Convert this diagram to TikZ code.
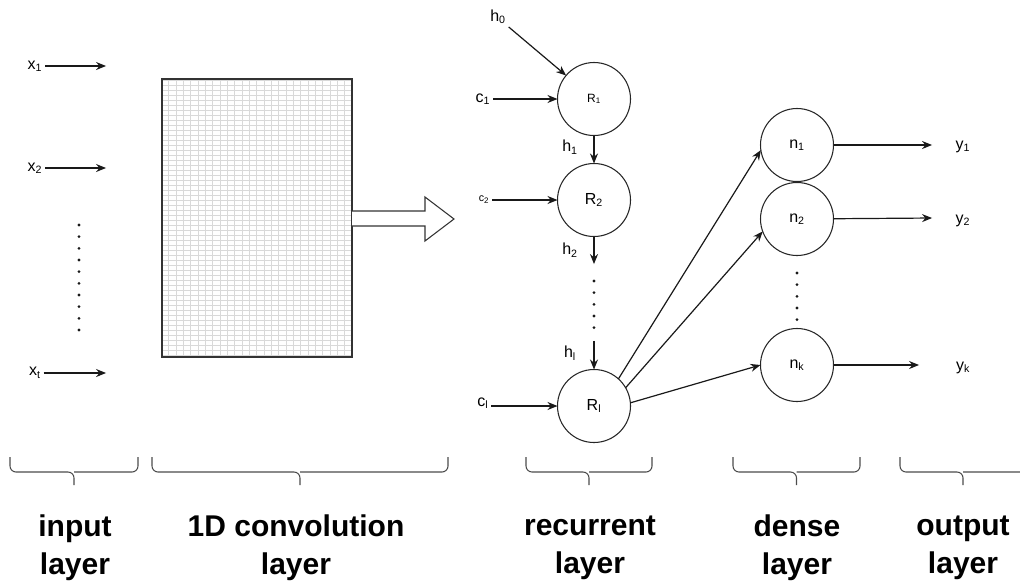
\documentclass[tikz,border=0pt]{standalone}
\usepackage{fontspec}
\setmainfont{Liberation Sans}
\usepackage{tkz-graph}
\usetikzlibrary{arrows.meta}

\tikzset{lab/.style = {font = \fontsize{12}{14}\selectfont, inner sep = 2pt}}
\tikzset{layertext/.style = {font = \bfseries\fontsize{22.5}{28.5}\selectfont, align = center, inner sep = 0pt}}
\tikzset{bracelook/.style = {line width = 0.8pt, black!70, rounded corners = 4.5pt}}
\tikzset{dotline/.style = {line width = 2.3pt, line cap = round, dash pattern = on 0pt off 8.75pt, black!90}}
% flat curly brace under a layer: left end, right end
\newcommand{\LayerBrace}[2]{%
  \draw[bracelook] (#1,457) |- ({(#1+#2)/2},472) -- ({(#1+#2)/2},485);
  \draw[bracelook] (#2,457) |- ({(#1+#2)/2},472);}

\begin{document}
\begin{tikzpicture}[x=0.75pt,y=-0.75pt]
\clip (0,0) rectangle (1020,586);
\GraphInit[vstyle=Normal]
\tikzset{VertexStyle/.style = {shape = circle, minimum size = 54.75pt, inner sep = 0pt, draw = black!85, line width = 0.8pt, font = \fontsize{12}{14}\selectfont}}
\tikzset{EdgeStyle/.style = {-{Stealth[length=7.5pt,width=6pt]}, line width = 0.9pt, black!90}}
\tikzset{LabelStyle/.style = {draw = none, fill = none, inner sep = 0pt}}

% input layer
\node[lab] (x1) at (35,66) {x\textsubscript{1}}; \node[lab] (x2) at (35,168) {x\textsubscript{2}}; \node[lab] (xt) at (35,373) {x\textsubscript{t}};
\Vertex[empty,x=107,y=66]{X1} \Vertex[empty,x=107,y=168]{X2} \Vertex[empty,x=107,y=373]{Xt}
\Edge(x1)(X1) \Edge(x2)(X2) \Edge(xt)(Xt)
\draw[dotline] (79,225) -- (79,332);

% 1D convolution layer
\draw[gray!30, line width = 0.5pt, xstep = 5.5pt, ystep = 3.75pt] (162,79) grid (352,357);
\draw[black!80, line width = 1pt] (162,79) rectangle (352,357);
\draw[black!80, line width = 0.8pt, fill = white] (352,211) -- (425,211) -- (425,197) -- (454,219) -- (425,241) -- (425,226) -- (352,226);

% recurrent layer
\Vertex[x=594,y=99,L={\fontsize{9}{10}\selectfont R\textsubscript{1}}]{R1}
\Vertex[x=594,y=200,L={R\textsubscript{2}}]{R2}
\Vertex[x=594,y=406,L={R\textsubscript{l}}]{Rl}
\node[lab] (h0) at (498,17) {h\textsubscript{0}};
\node[lab] (c1) at (483,99) {c\textsubscript{1}};
\node[lab] (h1) at (570,147) {h\textsubscript{1}};
\node[lab, font = \fontsize{8}{9}\selectfont] (c2) at (484,200) {c\textsubscript{2}};
\node[lab] (h2) at (570,250) {h\textsubscript{2}};
\node[lab] (hl) at (570,353) {h\textsubscript{l}};
\node[lab] (cl) at (483,403) {c\textsubscript{l}};
\Vertex[empty,x=594,y=265]{H2} \Vertex[empty,x=594,y=340]{Hl}
\Edge(h0.south east)(R1) \Edge(c1)(R1) \Edge(R1)(R2) \Edge(c2.east)(R2.west) \Edge(R2)(H2) \Edge(Hl)(Rl) \Edge(cl.east |- Rl.west)(Rl.west)
\draw[dotline] (594,281) -- (594,332);

% dense layer
\Vertex[x=797,y=145,L={n\textsubscript{1}}]{n1}
\Vertex[x=797,y=219,L={n\textsubscript{2}}]{n2}
\Vertex[x=797,y=365,L={n\textsubscript{k}}]{nk}
\Edge(Rl.48)(n1.188) \Edge(Rl.30)(n2.200) \Edge(Rl.5)(nk.180)
\draw[dotline] (797,273) -- (797,324);

% output layer
\Vertex[empty,x=933,y=145]{Y1} \Vertex[empty,x=933,y=218]{Y2} \Vertex[empty,x=920,y=365]{Yk}
\Edges(n1,Y1) \Edges(n2,Y2) \Edges(nk,Yk)
\node[lab] (y1) at (963,147) {y\textsubscript{1}}; \node[lab] (y2) at (963,221) {y\textsubscript{2}}; \node[lab] (yk) at (963,368) {y\textsubscript{k}};

% braces and layer names
\LayerBrace{10}{138} \LayerBrace{152}{448} \LayerBrace{526}{652} \LayerBrace{733}{860} \LayerBrace{900}{1026}
\node[layertext] (tin) at (75,548) {input\\layer};
\node[layertext] (tconv) at (296,548) {1D convolution\\layer};
\node[layertext] (trec) at (590,548) {recurrent\\layer};
\node[layertext] (tden) at (797,548) {dense\\layer};
\node[layertext] (tout) at (963,548) {output\\layer};
\end{tikzpicture}
\end{document}
